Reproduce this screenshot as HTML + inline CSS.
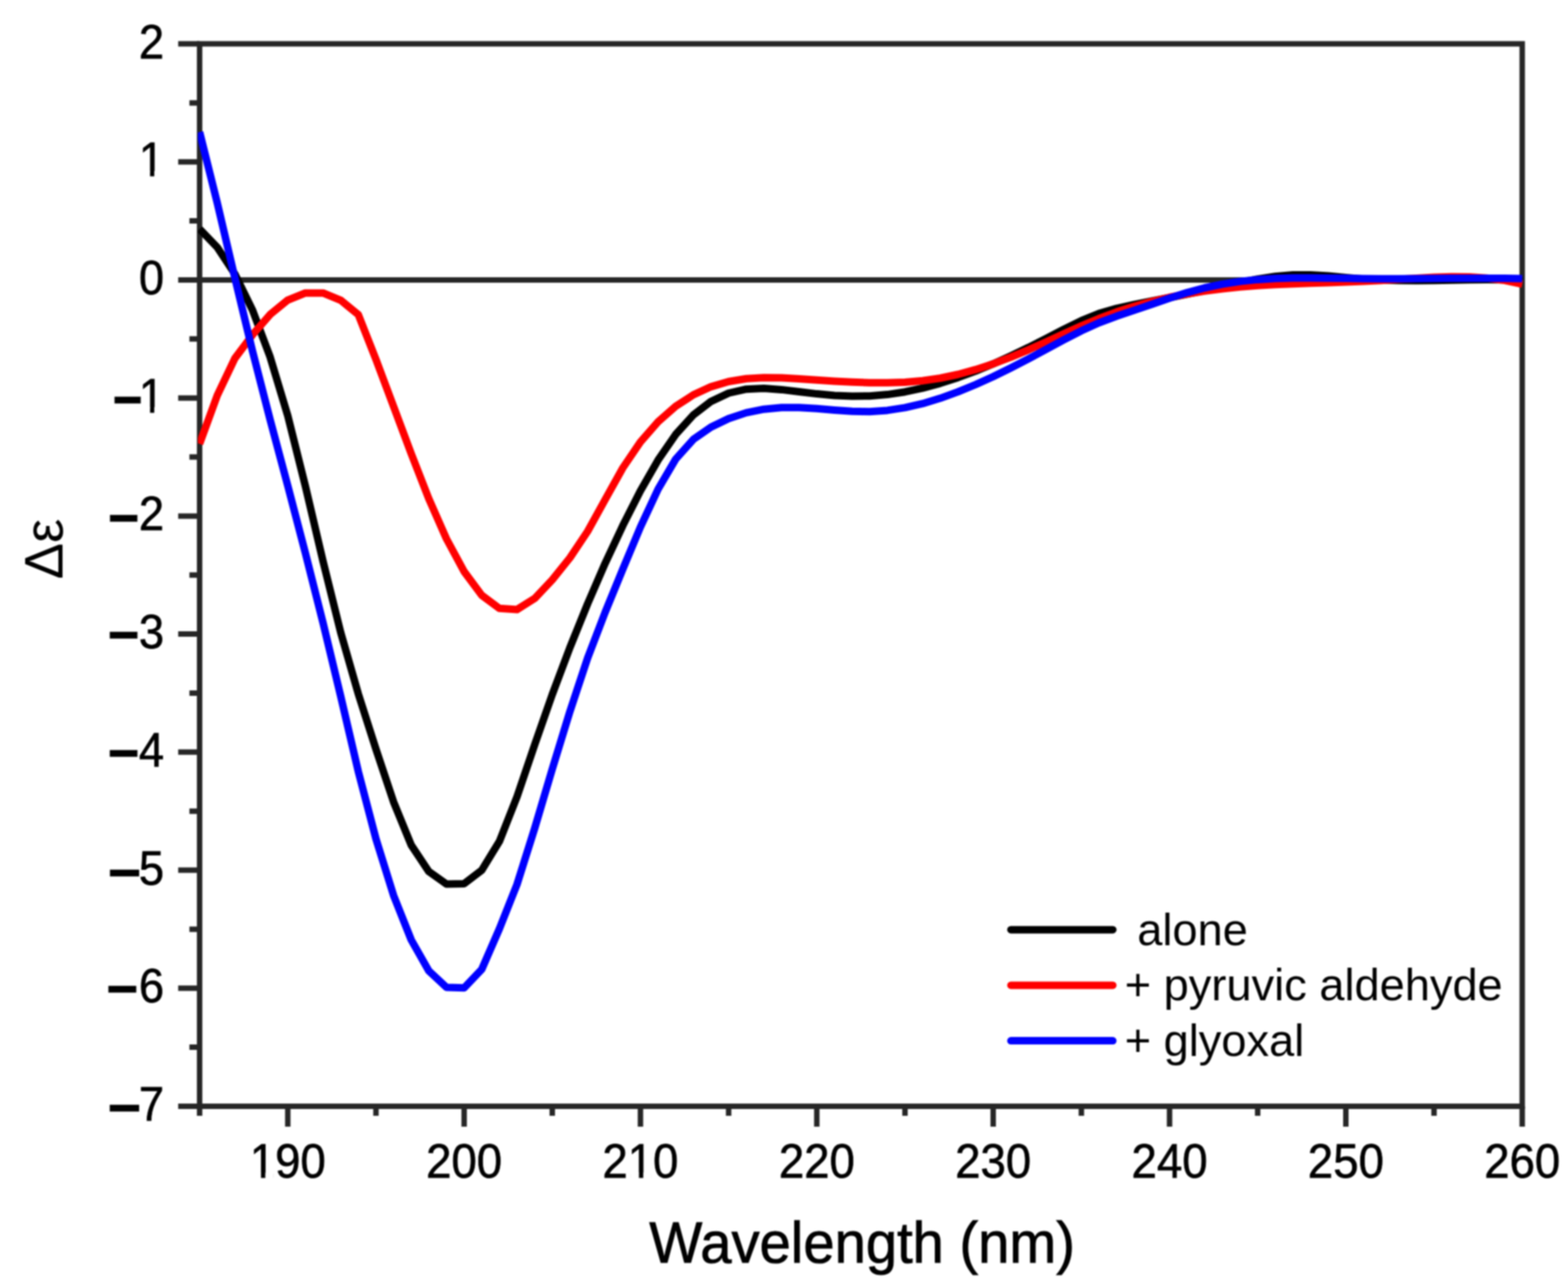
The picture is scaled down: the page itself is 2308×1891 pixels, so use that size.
<!DOCTYPE html>
<html><head><meta charset="utf-8"><title>CD spectra</title>
<style>html,body{margin:0;padding:0;background:#fff;} svg{display:block;filter:blur(1.2px);} text{font-family:"Liberation Sans",Arial,sans-serif;}</style>
</head><body>
<svg xmlns="http://www.w3.org/2000/svg" width="2308" height="1891" viewBox="0 0 2308 1891"><defs><clipPath id="c1_0"><path clip-rule="evenodd" d="M-2000 -2000H2000V2000H-2000Z M-32.98 -6.98H-20.65V4H-32.98Z M-14.40 -6.98H-2.39V4H-14.40Z"/></clipPath><clipPath id="c1_1"><path clip-rule="evenodd" d="M-2000 -2000H2000V2000H-2000Z M-32.98 -6.98H-20.65V4H-32.98Z M-14.40 -6.98H-2.39V4H-14.40Z"/></clipPath><clipPath id="c1_2"><path clip-rule="evenodd" d="M-2000 -2000H2000V2000H-2000Z M-51.86 -7.04H-39.43V4H-51.86Z M-33.13 -7.04H-21.04V4H-33.13Z"/></clipPath><clipPath id="c1_3"><path clip-rule="evenodd" d="M-2000 -2000H2000V2000H-2000Z M-14.61 -7.04H-2.18V4H-14.61Z M4.12 -7.04H16.21V4H4.12Z"/></clipPath></defs><rect x="293.8" y="64.5" width="1946.8" height="1563.5" fill="none" stroke="#262626" stroke-width="8"/>
<line x1="293.8" y1="411.9" x2="2240.6" y2="411.9" stroke="#262626" stroke-width="8"/>
<path d="M262.3 1628.0H293.8 M278.8 1541.1H293.8 M262.3 1454.3H293.8 M278.8 1367.4H293.8 M262.3 1280.6H293.8 M278.8 1193.7H293.8 M262.3 1106.8H293.8 M278.8 1020.0H293.8 M262.3 933.1H293.8 M278.8 846.2H293.8 M262.3 759.4H293.8 M278.8 672.5H293.8 M262.3 585.7H293.8 M278.8 498.8H293.8 M262.3 411.9H293.8 M278.8 325.1H293.8 M262.3 238.2H293.8 M278.8 151.4H293.8 M262.3 64.5H293.8 M293.8 1628.0V1642.0 M423.6 1628.0V1658.0 M553.4 1628.0V1642.0 M683.2 1628.0V1658.0 M812.9 1628.0V1642.0 M942.7 1628.0V1658.0 M1072.5 1628.0V1642.0 M1202.3 1628.0V1658.0 M1332.1 1628.0V1642.0 M1461.9 1628.0V1658.0 M1591.7 1628.0V1642.0 M1721.5 1628.0V1658.0 M1851.2 1628.0V1642.0 M1981.0 1628.0V1658.0 M2110.8 1628.0V1642.0 M2240.6 1628.0V1658.0" stroke="#262626" stroke-width="8" fill="none"/>
<clipPath id="pc"><rect x="291.3" y="0" width="1950.8" height="1891"/></clipPath>
<g clip-path="url(#pc)"><polyline points="293.8,337.0 319.8,364.0 345.7,403.2 371.7,456.4 397.6,525.3 423.6,611.9 449.5,715.4 475.5,825.9 501.5,930.8 527.4,1021.1 553.4,1102.5 579.3,1180.1 605.3,1243.6 631.2,1282.6 657.2,1300.9 683.2,1300.4 709.1,1280.6 735.1,1238.2 761.0,1172.5 787.0,1096.0 812.9,1022.0 838.9,952.9 864.9,888.6 890.8,828.8 916.8,773.3 942.7,722.2 968.7,676.9 994.6,639.3 1020.6,610.6 1046.6,590.7 1072.5,578.5 1098.5,572.7 1124.4,571.5 1150.4,573.4 1176.3,576.5 1202.3,579.6 1228.3,581.9 1254.2,583.0 1280.2,582.7 1306.1,580.6 1332.1,576.7 1358.1,571.1 1384.0,564.1 1410.0,555.7 1435.9,546.1 1461.9,535.4 1487.8,523.7 1513.8,511.3 1539.8,498.1 1565.7,484.6 1591.7,471.9 1617.6,461.4 1643.6,453.8 1669.5,448.1 1695.5,443.0 1721.5,438.0 1747.4,432.8 1773.4,427.4 1799.3,421.5 1825.3,415.7 1851.2,410.6 1877.2,406.7 1903.2,404.5 1929.1,404.6 1955.1,406.1 1981.0,408.5 2007.0,410.7 2032.9,412.1 2058.9,412.8 2084.9,412.9 2110.8,412.7 2136.8,412.2 2162.7,411.8 2188.7,411.6 2214.6,411.7 2240.6,412.4" fill="none" stroke="#000" stroke-width="11" stroke-linejoin="round"/><polyline points="293.8,653.2 319.8,581.9 345.7,527.4 371.7,492.7 397.6,462.8 423.6,441.6 449.5,431.2 475.5,431.2 501.5,441.8 527.4,463.0 553.4,529.0 579.3,598.1 605.3,667.7 631.2,734.0 657.2,793.0 683.2,841.1 709.1,876.0 735.1,895.3 761.0,897.0 787.0,880.7 812.9,853.2 838.9,820.9 864.9,782.0 890.8,735.2 916.8,688.5 942.7,650.3 968.7,620.7 994.6,597.9 1020.6,581.0 1046.6,569.1 1072.5,561.5 1098.5,557.3 1124.4,555.8 1150.4,556.1 1176.3,557.5 1202.3,559.2 1228.3,560.9 1254.2,562.3 1280.2,563.2 1306.1,563.3 1332.1,562.4 1358.1,560.2 1384.0,556.5 1410.0,551.0 1435.9,543.9 1461.9,535.4 1487.8,525.6 1513.8,514.8 1539.8,503.2 1565.7,491.2 1591.7,479.6 1617.6,468.7 1643.6,459.1 1669.5,450.7 1695.5,443.6 1721.5,437.5 1747.4,432.5 1773.4,428.3 1799.3,425.0 1825.3,422.3 1851.2,420.3 1877.2,418.8 1903.2,417.7 1929.1,416.8 1955.1,416.0 1981.0,415.1 2007.0,414.1 2032.9,412.8 2058.9,411.1 2084.9,409.4 2110.8,408.0 2136.8,407.2 2162.7,407.5 2188.7,409.2 2214.6,412.6 2240.6,418.2" fill="none" stroke="#f00" stroke-width="11" stroke-linejoin="round"/><polyline points="293.8,194.3 319.8,298.6 345.7,408.7 371.7,516.8 397.6,617.6 423.6,714.9 449.5,813.9 475.5,916.7 501.5,1024.6 527.4,1135.3 553.4,1234.5 579.3,1317.7 605.3,1383.1 631.2,1428.8 657.2,1453.0 683.2,1453.8 709.1,1426.5 735.1,1366.8 761.0,1301.5 787.0,1219.0 812.9,1131.8 838.9,1046.9 864.9,968.5 890.8,900.9 916.8,837.4 942.7,775.5 968.7,719.7 994.6,675.6 1020.6,646.6 1046.6,628.5 1072.5,616.0 1098.5,607.4 1124.4,602.2 1150.4,599.8 1176.3,599.8 1202.3,601.3 1228.3,603.5 1254.2,605.3 1280.2,605.7 1306.1,603.9 1332.1,599.9 1358.1,593.9 1384.0,586.1 1410.0,576.7 1435.9,566.0 1461.9,554.2 1487.8,541.5 1513.8,528.1 1539.8,514.2 1565.7,500.2 1591.7,486.8 1617.6,475.0 1643.6,465.3 1669.5,456.6 1695.5,447.7 1721.5,438.8 1747.4,430.6 1773.4,423.5 1799.3,418.1 1825.3,414.1 1851.2,411.4 1877.2,409.8 1903.2,409.1 1929.1,408.9 1955.1,409.2 1981.0,409.6 2007.0,410.0 2032.9,410.2 2058.9,410.2 2084.9,410.0 2110.8,409.8 2136.8,409.5 2162.7,409.4 2188.7,409.4 2214.6,409.6 2240.6,410.1" fill="none" stroke="#00f" stroke-width="11" stroke-linejoin="round"/></g>
<g font-size="66.5" fill="#000" stroke="#000" stroke-width="0.9"><text transform="translate(241.5,1649.0) scale(1,1.065)" text-anchor="end">7</text><text transform="translate(162.0,1663.0) scale(1.057,1.75)" font-size="72">–</text><text transform="translate(241.5,1475.3) scale(1,1.065)" text-anchor="end">6</text><text transform="translate(159.9,1488.3) scale(1.002,1.75)" font-size="72">–</text><text transform="translate(241.5,1301.6) scale(1,1.065)" text-anchor="end">5</text><text transform="translate(162.2,1316.6) scale(1.052,1.75)" font-size="72">–</text><text transform="translate(241.5,1127.8) scale(1,1.065)" text-anchor="end">4</text><text transform="translate(162.0,1140.7) scale(0.997,1.75)" font-size="72">–</text><text transform="translate(241.5,954.1) scale(1,1.065)" text-anchor="end">3</text><text transform="translate(162.0,967.4) scale(0.997,1.75)" font-size="72">–</text><text transform="translate(241.5,780.4) scale(1,1.065)" text-anchor="end">2</text><text transform="translate(162.3,795.4) scale(0.989,1.75)" font-size="72">–</text><text transform="translate(241.5,606.7) scale(1,1.065)" text-anchor="end" clip-path="url(#c1_0)">1</text><text transform="translate(169.0,620.5) scale(0.944,1.75)" font-size="72">–</text><text transform="translate(241.5,432.9) scale(1,1.065)" text-anchor="end">0</text><text transform="translate(241.5,259.2) scale(1,1.065)" text-anchor="end" clip-path="url(#c1_1)">1</text><text transform="translate(241.5,85.5) scale(1,1.065)" text-anchor="end">2</text></g>
<g font-size="67" fill="#000" stroke="#000" stroke-width="0.9"><text transform="translate(423.6,1733) scale(1,1.05)" text-anchor="middle" clip-path="url(#c1_2)">190</text><text transform="translate(683.2,1733) scale(1,1.05)" text-anchor="middle">200</text><text transform="translate(942.7,1733) scale(1,1.05)" text-anchor="middle" clip-path="url(#c1_3)">210</text><text transform="translate(1202.3,1733) scale(1,1.05)" text-anchor="middle">220</text><text transform="translate(1461.9,1733) scale(1,1.05)" text-anchor="middle">230</text><text transform="translate(1721.5,1733) scale(1,1.05)" text-anchor="middle">240</text><text transform="translate(1981.0,1733) scale(1,1.05)" text-anchor="middle">250</text><text transform="translate(2240.6,1733) scale(1,1.05)" text-anchor="middle">260</text></g>
<text transform="translate(1269,1857.5) scale(1,1.03)" text-anchor="middle" font-size="82.7" fill="#000" stroke="#000" stroke-width="1.1">Wavelength (nm)</text>
<text transform="translate(92,808) rotate(-90)" text-anchor="middle" font-size="80" fill="#000">Δε</text>
<line x1="1488" y1="1368.2" x2="1638" y2="1368.2" stroke="#000" stroke-width="11" stroke-linecap="round"/>
<text x="1655.5" y="1390.5" font-size="66.5" fill="#000" xml:space="preserve"> alone</text>
<line x1="1488" y1="1449.9" x2="1638" y2="1449.9" stroke="#f00" stroke-width="11" stroke-linecap="round"/>
<text x="1655.5" y="1472.2" font-size="66.5" fill="#000" xml:space="preserve">+ pyruvic aldehyde</text>
<line x1="1488" y1="1531.6" x2="1638" y2="1531.6" stroke="#00f" stroke-width="11" stroke-linecap="round"/>
<text x="1655.5" y="1553.9" font-size="66.5" fill="#000" xml:space="preserve">+ glyoxal</text></svg>
</body></html>
